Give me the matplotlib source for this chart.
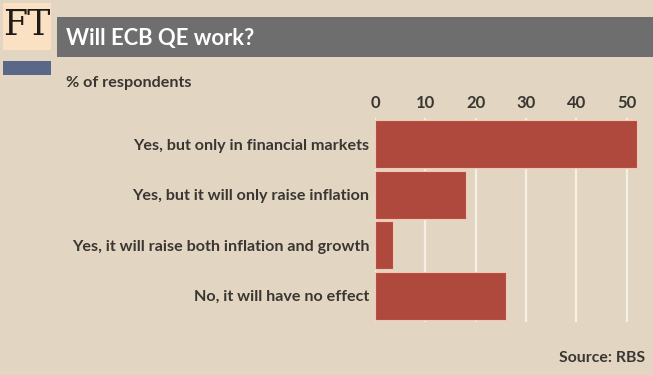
import matplotlib.pyplot as plt
from matplotlib.patches import Rectangle

categories = [
    "Yes, but only in financial markets",
    "Yes, but it will only raise inflation",
    "Yes, it will raise both inflation and growth",
    "No, it will have no effect",
]
values = [52, 18, 3.5, 26]
ticks = [0, 10, 20, 30, 40, 50]

bg = "#e2d6c3"
bar_color = "#b0493d"
text_color = "#3a3631"

plt.rcParams["font.family"] = ["Lato", "DejaVu Sans"]

fig = plt.figure(figsize=(6.53, 3.75), dpi=100)
fig.patch.set_facecolor(bg)

W, H = 653, 375


def box(x0, y0, x1, y1, color):
    # pixel coords from top-left
    fig.patches.append(Rectangle((x0 / W, 1 - y1 / H), (x1 - x0) / W, (y1 - y0) / H,
                                 transform=fig.transFigure, facecolor=color,
                                 edgecolor="none", zorder=0))


# header
box(3, 3, 51, 50, "#fbe1c4")
box(57, 17, 653, 57, "#6e6e6e")
box(3, 61, 51, 75, "#5b6787")
fig.text(27 / W, 1 - 25 / H, "FT", fontsize=25, family="DejaVu Serif",
         color="#1e1a17", ha="center", va="center")
fig.text(66 / W, 1 - 38 / H, "Will ECB QE work?", fontsize=15.8, fontweight="bold",
         color="white", ha="left", va="center")
fig.text(66 / W, 1 - 83 / H, "% of respondents", fontsize=11.6, fontweight="bold",
         color=text_color, ha="left", va="center")
fig.text(645 / W, 1 - 358 / H, "Source: RBS", fontsize=11.4, fontweight="bold",
         color=text_color, ha="right", va="center")

ax = fig.add_axes([375 / W, 1 - 322 / H, (640 - 375) / W, (322 - 118) / H])
ax.set_facecolor("none")

ypos = list(range(len(categories)))
ax.barh(ypos, values, height=0.96, color=bar_color, edgecolor="#f2c7b6",
        linewidth=0.8, zorder=3)

ax.set_xlim(0, 52.65)
ax.set_ylim(3.52, -0.52)
ax.set_xticks(ticks)
ax.xaxis.tick_top()
ax.tick_params(axis="x", length=0, pad=5, labelsize=12, labelcolor=text_color)
for lbl in ax.get_xticklabels():
    lbl.set_fontweight("bold")
ax.set_yticks(ypos)
ax.set_yticklabels(categories)
ax.tick_params(axis="y", length=0, pad=4, labelsize=11.6, labelcolor=text_color)
for lbl in ax.get_yticklabels():
    lbl.set_fontweight("bold")

ax.grid(axis="x", color="#f7efe4", linewidth=1.6, zorder=1)
for s in ax.spines.values():
    s.set_visible(False)

fig.savefig("out.png", dpi=100, facecolor=bg)
